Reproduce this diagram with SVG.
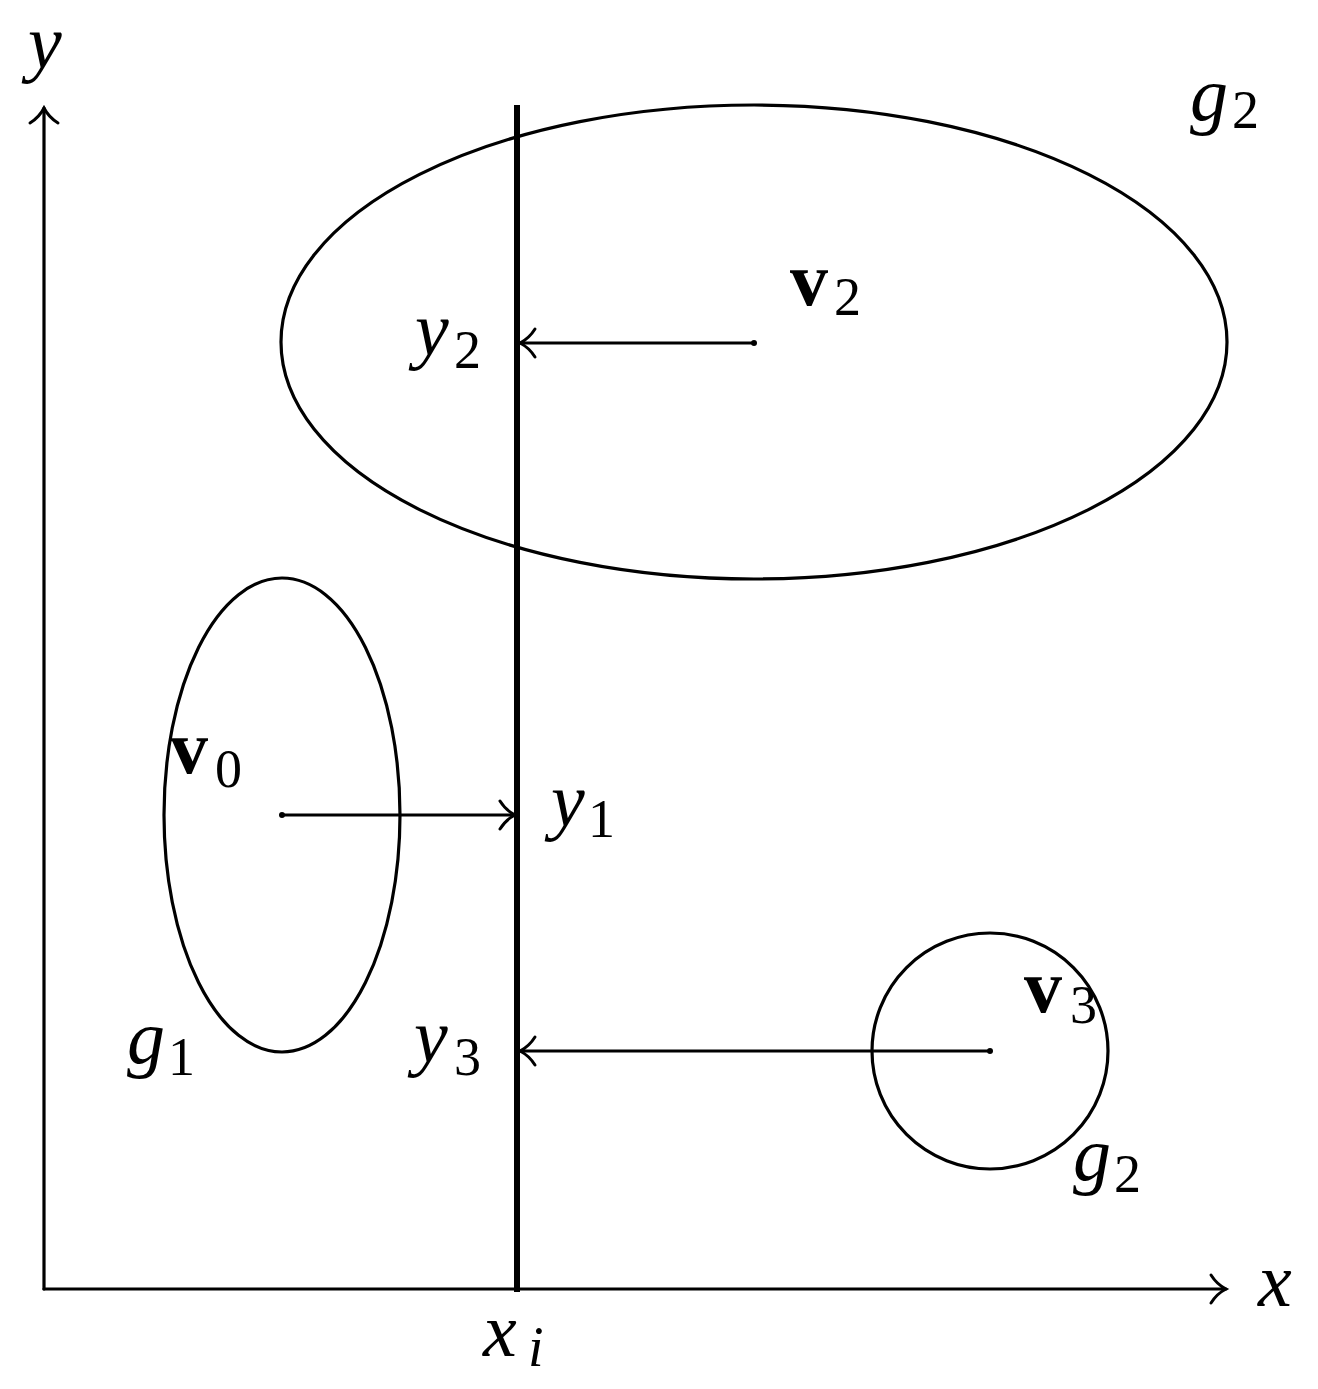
<svg xmlns="http://www.w3.org/2000/svg" width="1318" height="1389" viewBox="0 0 1318 1389">
<style>
.ln{fill:none;stroke:#000;stroke-width:3.2;stroke-linecap:round}
.thick{fill:none;stroke:#000;stroke-width:6}
.m{font-family:"Liberation Serif",serif;font-style:italic;font-size:76px;fill:#000}
.b{font-family:"Liberation Serif",serif;font-weight:bold;font-size:76px;fill:#000}
.s{font-family:"Liberation Serif",serif;font-style:normal;font-weight:normal;font-size:54px}
.si{font-family:"Liberation Serif",serif;font-style:italic;font-weight:normal;font-size:56px}
</style>
<defs>
<marker id="to" markerUnits="userSpaceOnUse" orient="auto" overflow="visible" markerWidth="30" markerHeight="30" refX="0" refY="0">
<path d="M-15,-14 C-10,-6 -4,-2 0,0 C-4,2 -10,6 -15,14" fill="none" stroke="#000" stroke-width="3" stroke-linecap="round"/>
</marker>
</defs>
<g id="axes">
<line class="ln" x1="44" y1="1289" x2="1226" y2="1289" marker-end="url(#to)"/>
<line class="ln" x1="44" y1="1289" x2="44" y2="108" marker-end="url(#to)"/>
</g>
<g id="line-xi">
<line class="thick" x1="517" y1="105" x2="517" y2="1292"/>
</g>
<g id="g2-ellipse">
<ellipse class="ln" cx="754" cy="342" rx="473" ry="237"/>
</g>
<g id="g1-ellipse">
<ellipse class="ln" cx="282" cy="815" rx="118" ry="237"/>
</g>
<g id="g2-circle">
<circle class="ln" cx="990" cy="1051" r="118"/>
</g>
<g id="connectors">
<line class="ln" x1="754" y1="343" x2="520" y2="343" marker-end="url(#to)"/>
<circle cx="754" cy="343" r="3"/>
<line class="ln" x1="282" y1="815" x2="515" y2="815" marker-end="url(#to)"/>
<circle cx="282" cy="815" r="3"/>
<line class="ln" x1="990" y1="1051" x2="520" y2="1051" marker-end="url(#to)"/>
<circle cx="990" cy="1051" r="3"/>
</g>
<g id="labels">
<text class="m" x="28" y="68">y</text>
<text class="m" x="1258" y="1306">x</text>
<text class="m" x="483" y="1356">x<tspan class="si" x="528" y="1366">i</tspan></text>
<text class="m" x="1190" y="120">g<tspan class="s" x="1232" y="128">2</tspan></text>
<text class="b" x="790" y="305">v<tspan class="s" x="834" y="315">2</tspan></text>
<text class="m" x="415" y="355">y<tspan class="s" x="454" y="368">2</tspan></text>
<text class="b" x="170" y="773">v<tspan class="s" x="215" y="787">0</tspan></text>
<text class="m" x="551" y="826">y<tspan class="s" x="588" y="837">1</tspan></text>
<text class="m" x="127" y="1063">g<tspan class="s" x="168" y="1075">1</tspan></text>
<text class="m" x="414" y="1062">y<tspan class="s" x="454" y="1075">3</tspan></text>
<text class="b" x="1024" y="1012">v<tspan class="s" x="1070" y="1023">3</tspan></text>
<text class="m" x="1073" y="1180">g<tspan class="s" x="1114" y="1192">2</tspan></text>
</g>
</svg>
